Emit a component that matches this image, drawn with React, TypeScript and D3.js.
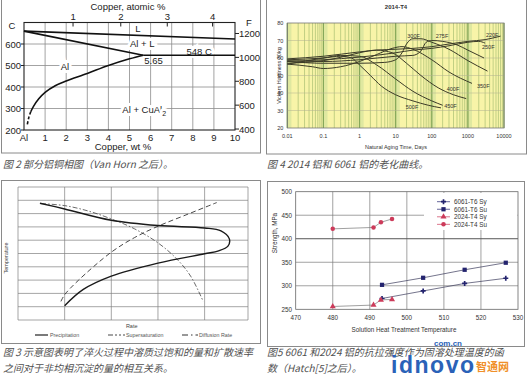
import React from 'react';
import * as d3 from 'd3';

// ---------- Panel 1: partial Al-Cu phase diagram ----------
const wtTicks = [0, 1, 2, 3, 4, 5, 6, 7, 8, 9, 10];
const wtTickLabels = ['Al', '1', '2', '3', '4', '5', '6', '7', '8', '9', '10'];
const celsiusTicks = [200, 300, 400, 500, 600];
const fahrenheitTicks = [400, 600, 800, 1000, 1200];
const atomicTicks = [1, 2, 3, 4];
const liquidusLine = [[0, 660], [10, 623]];
const solidusLine = [[0, 660], [5.65, 548]];
const eutecticLine = [[5.65, 548], [10, 548]];
const solvusLine = [[5.65, 548], [5, 531], [4, 500], [3, 463], [2, 428], [1.5, 407], [1, 375], [0.7, 345], [0.45, 310], [0.32, 285]];
const solvusDashed = [[0.32, 285], [0.22, 255], [0.15, 222]];

// ---------- Panel 2: 2014-T4 aging curves ----------
const ageTicks = [0.01, 0.1, 1, 10, 100, 1000, 10000];
const ageTickLabels = ['0.01', '0.1', '1', '10', '100', '1000', '10000'];
const hardTicks = [20, 30, 40, 50, 60, 70, 80];
const h220F = [[0.01, 59.5], [0.1, 61], [1, 63.5], [3, 64.5], [10, 65], [30, 65.5], [100, 66.5], [300, 68], [1000, 69.5], [3000, 70.5], [8000, 72.5]];
const h250F = [[0.01, 58], [0.1, 59], [1, 60.5], [10, 63], [30, 64.5], [100, 65.5], [300, 67], [1000, 69], [2000, 69.5], [3000, 68.5]];
const h275F = [[0.01, 58.5], [0.1, 58], [1, 59], [10, 61], [30, 61.5], [50, 64], [70, 69], [100, 70], [200, 69.5], [500, 67.5], [1000, 64.5], [2800, 60]];
const h300F = [[0.01, 58], [0.1, 57], [1, 57], [5, 57.5], [10, 59], [15, 63], [20, 68], [30, 71], [50, 71], [100, 69], [300, 65], [1000, 58.5], [3500, 52.5]];
const h350F = [[0.01, 56.5], [0.05, 55], [0.1, 54], [0.3, 55], [1, 58], [3, 62], [8, 65.5], [15, 66.5], [30, 65], [100, 59], [300, 52], [1300, 45.5]];
const h400F = [[0.01, 57], [0.1, 58.5], [0.5, 61.5], [1, 63], [3, 64.5], [8, 63], [20, 57], [50, 50], [150, 43], [400, 39], [900, 36.8]];
const h450F = [[0.01, 56.5], [0.1, 60], [0.3, 61.5], [1, 61], [3, 56], [10, 48], [30, 41], [100, 35.5], [200, 33]];
const h500F = [[0.01, 59], [0.1, 60], [0.3, 61], [0.6, 60], [1, 56], [2, 50], [4, 44], [10, 39], [30, 35.5], [80, 33], [180, 31.5]];
const hardSeriesNames = ['220F', '250F', '275F', '300F', '350F', '400F', '450F', '500F'];

// ---------- Panel 3: schematic rates ----------
const precipitation = [[0.47, 8.78], [1.0, 8.35], [2.0, 7.5], [3.0, 7.1], [4.0, 6.92], [4.35, 6.7], [4.53, 6.1], [4.5, 5.55], [4.3, 5.2], [4.0, 4.98], [3.0, 4.28], [2.0, 3.3], [1.4, 2.3], [1.0, 1.08]];
const supersaturation = [[0.5, 8.75], [1.0, 8.6], [1.5, 8.2], [2.0, 7.6], [2.5, 6.85], [3.0, 5.8], [3.4, 4.6], [3.7, 3.3], [3.97, 1.4]];
const diffusionRate = [[0.92, 1.4], [1.0, 1.9], [1.3, 3.0], [2.0, 5.1], [2.5, 6.2], [3.0, 7.05], [3.6, 7.9], [4.26, 8.83]];
const legend3 = ['Precipitation', 'Supersaturation', 'Diffusion Rate'];

// ---------- Panel 4: strength vs solution temperature ----------
const tempTicks = [470, 480, 490, 500, 510, 520, 530];
const strengthTicks = [250, 300, 350, 400, 450, 500];
const t6061 = [493.3, 504.4, 515.6, 526.7];
const sy6061 = [273, 289, 305, 316];
const su6061 = [302, 317, 334, 349];
const t2024 = [480, 491, 493, 496];
const sy2024 = [256, 259, 270, 271];
const su2024 = [421, 424, 435, 442];
const legend4 = ['6061-T6 Sy', '6061-T6 Su', '2024-T4 Sy', '2024-T4 Su'];

const SANS = "'Liberation Sans', Arial, sans-serif";
const CJK = "'Noto Sans CJK SC', sans-serif";

export default function App() {
  // Panel 1
  const x1 = d3.scaleLinear().domain([0, 10]).range([24, 235]);
  const y1 = d3.scaleLinear().domain([200, 700]).range([130, 22.5]);
  const yF = (f: number) => y1((f - 32) / 1.8);
  const atToWt = (a: number) => (100 * a * 63.55) / (a * 63.55 + (100 - a) * 26.98);
  const l1 = d3.line<number[]>().x(d => x1(d[0])).y(d => y1(d[1]));
  const l1c = d3.line<number[]>().x(d => x1(d[0])).y(d => y1(d[1])).curve(d3.curveCatmullRom.alpha(0.5));

  // Panel 2
  const x2 = d3.scaleLog().domain([0.01, 10000]).range([287.3, 504]);
  const y2 = d3.scaleLinear().domain([20, 80]).range([128, 23]);
  const l2 = d3.line<number[]>().x(d => x2(d[0])).y(d => y2(d[1])).curve(d3.curveMonotoneX);
  const hardSeries = [h220F, h250F, h275F, h300F, h350F, h400F, h450F, h500F];
  const hardLabelPos: [number, number][] = [[3150, 72.2], [2460, 65.3], [129, 71.2], [21, 71.2], [1790, 42.8], [260, 41], [220, 31.6], [19, 30.6]];
  const minor: number[] = [];
  for (let dd = -2; dd <= 3; dd++) for (let k = 1; k <= 9; k++) minor.push(k * Math.pow(10, dd));

  // Panel 3
  const x3 = d3.scaleLinear().domain([0, 4.93]).range([18, 248]);
  const y3 = d3.scaleLinear().domain([0, 10]).range([320, 187]);
  const l3 = d3.line<number[]>().x(d => x3(d[0])).y(d => y3(d[1])).curve(d3.curveCatmullRom.alpha(0.5));

  // Panel 4
  const x4 = d3.scaleLinear().domain([470, 530]).range([295.7, 518]);
  const y4 = d3.scaleLinear().domain([250, 500]).range([309.3, 191.7]);
  const l4 = d3.line<number>();
  const navy = '#23236e';
  const red = '#cc3b5a';
  const sym = (t: any, s: number) => d3.symbol().type(t).size(s)() as string;
  const series4 = [
    { t: t6061, v: sy6061, c: navy, s: sym(d3.symbolCross, 14) },
    { t: t6061, v: su6061, c: navy, s: sym(d3.symbolSquare, 18) },
    { t: t2024, v: sy2024, c: red, s: sym(d3.symbolTriangle, 16) },
    { t: t2024, v: su2024, c: red, s: sym(d3.symbolCircle, 16) },
  ];

  const halo = { stroke: '#fff', strokeWidth: 6, paintOrder: 'stroke' as const };

  return (
    <svg width={528} height={384} style={{ position: 'absolute', left: 0, top: 0, background: '#fff' }} fontFamily={SANS}>
      {/* ================= Panel 1 ================= */}
      <rect x={1.5} y={-2} width={259} height={155} fill="none" stroke="#8a8a8a" strokeWidth={1} />
      {wtTicks.slice(1, -1).map(w => (
        <line key={'v' + w} x1={x1(w)} x2={x1(w)} y1={y1(700)} y2={y1(200)} stroke="#8c8c8c" strokeWidth={0.8} />
      ))}
      {celsiusTicks.slice(1).map(c => (
        <line key={'h' + c} x1={x1(0)} x2={x1(10)} y1={y1(c)} y2={y1(c)} stroke="#8c8c8c" strokeWidth={0.8} />
      ))}
      <rect x={x1(0)} y={y1(700)} width={x1(10) - x1(0)} height={y1(200) - y1(700)} fill="none" stroke="#222" strokeWidth={1.1} />
      {celsiusTicks.map(c => (
        <g key={'ct' + c}>
          <line x1={x1(0) - 3} x2={x1(0)} y1={y1(c)} y2={y1(c)} stroke="#222" />
          <text x={x1(0) - 3} y={y1(c) + 3.5} fontSize={9.5} textAnchor="end" fill="#222">{c}</text>
        </g>
      ))}
      {fahrenheitTicks.map(f => (
        <g key={'ft' + f}>
          <line x1={x1(10)} x2={x1(10) + 4} y1={yF(f)} y2={yF(f)} stroke="#222" />
          <text x={x1(10) + 4} y={yF(f) + 3.5} fontSize={9.5} fill="#222">{f}</text>
        </g>
      ))}
      {wtTicks.map((w, i) => (
        <text key={'wt' + w} x={x1(w)} y={140.5} fontSize={9.5} textAnchor="middle" fill="#222">{wtTickLabels[i]}</text>
      ))}
      {atomicTicks.map(a => (
        <g key={'at' + a}>
          <line x1={x1(atToWt(a))} x2={x1(atToWt(a))} y1={y1(700)} y2={y1(700) + 4} stroke="#222" />
          <text x={x1(atToWt(a))} y={19.5} fontSize={9.5} textAnchor="middle" fill="#222">{a}</text>
        </g>
      ))}
      <text x={128} y={10} fontSize={9.5} textAnchor="middle" fill="#222">Copper,  atomic %</text>
      <text x={123} y={150} fontSize={9.5} textAnchor="middle" fill="#222">Copper,  wt  %</text>
      <text x={12} y={29} fontSize={9.5} textAnchor="middle" fill="#222">C</text>
      <text x={249} y={26} fontSize={9.5} textAnchor="middle" fill="#222">F</text>
      <text x={x1(5.4)} y={y1(655)} fontSize={9.5} textAnchor="middle" fill="#222">L</text>
      <text x={x1(5.6)} y={y1(588)} fontSize={9.5} textAnchor="middle" fill="#222" {...halo}>Al + L</text>
      <text x={x1(7.7)} y={y1(551)} fontSize={9.5} fill="#222" {...halo}>548 C</text>
      <text x={x1(5.7)} y={y1(508)} fontSize={9.5} fill="#222">5.65</text>
      <text x={x1(1.94)} y={y1(478)} fontSize={9.5} textAnchor="middle" fill="#222" {...halo}>Al</text>
      <text x={x1(4.66)} y={y1(280)} fontSize={9.5} fill="#222" {...halo}>Al  +  CuAl<tspan fontSize={7} dy={3}>2</tspan></text>
      <path d={l1(liquidusLine) ?? ''} fill="none" stroke="#111" strokeWidth={1.6} />
      <path d={l1(solidusLine) ?? ''} fill="none" stroke="#111" strokeWidth={1.6} />
      <path d={l1(eutecticLine) ?? ''} fill="none" stroke="#111" strokeWidth={1.6} />
      <path d={l1c(solvusLine) ?? ''} fill="none" stroke="#111" strokeWidth={1.6} />
      <path d={l1c(solvusDashed) ?? ''} fill="none" stroke="#111" strokeWidth={1.6} strokeDasharray="3,2" />

      {/* ================= Panel 2 ================= */}
      <rect x={266.5} y={-2} width={260} height={156} fill="none" stroke="#8a8a8a" strokeWidth={1} />
      <text x={396} y={9} fontSize={6} fontWeight="bold" textAnchor="middle" fill="#333">2014-T4</text>
      <rect x={x2(0.01)} y={y2(80)} width={x2(10000) - x2(0.01)} height={y2(20) - y2(80)} fill="#f8f4a8" />
      {[0.01, 0.1, 1, 10, 100, 1000].map(v => (
        <rect key={'band' + v} x={x2(v)} y={y2(80)} width={x2(v * 1.3) - x2(v)} height={y2(20) - y2(80)} fill="#dfe8a0" />
      ))}
      {minor.map(v => (
        <line key={'m' + v} x1={x2(v)} x2={x2(v)} y1={y2(80)} y2={y2(20)} stroke="#a9bf72" strokeWidth={0.7} />
      ))}
      {ageTicks.map(v => (
        <line key={'M' + v} x1={x2(v)} x2={x2(v)} y1={y2(80)} y2={y2(20)} stroke="#86a85a" strokeWidth={1.2} />
      ))}
      {hardTicks.slice(1, -1).map(v => (
        <line key={'hh' + v} x1={x2(0.01)} x2={x2(10000)} y1={y2(v)} y2={y2(v)} stroke="#b0b090" strokeWidth={0.5} />
      ))}
      <rect x={x2(0.01)} y={y2(80)} width={x2(10000) - x2(0.01)} height={y2(20) - y2(80)} fill="none" stroke="#777" strokeWidth={0.8} />
      {hardSeries.map((s, i) => (
        <path key={'hs' + i} d={l2(s) ?? ''} fill="none" stroke="#3c3b28" strokeWidth={1} />
      ))}
      {hardSeriesNames.map((n, i) => (
        <text key={'hl' + n} x={x2(hardLabelPos[i][0])} y={y2(hardLabelPos[i][1])} fontSize={5.5} fill="#333">{n}</text>
      ))}
      {hardTicks.map(v => (
        <text key={'yt2' + v} x={x2(0.01) - 4} y={y2(v) + 2} fontSize={5.5} textAnchor="end" fill="#333">{v}</text>
      ))}
      {ageTicks.map((v, i) => (
        <text key={'xt2' + v} x={x2(v)} y={137.5} fontSize={5.5} textAnchor="middle" fill="#333">{ageTickLabels[i]}</text>
      ))}
      <text x={396} y={148.5} fontSize={5.5} textAnchor="middle" fill="#333">Natural Aging Time, Days</text>
      <text transform="translate(281,75.5) rotate(-90)" fontSize={5.5} textAnchor="middle" fill="#333">Vickers Hardness 30kg</text>

      {/* ================= Panel 3 ================= */}
      <rect x={1.5} y={180.5} width={259} height={163} fill="none" stroke="#8a8a8a" strokeWidth={1} />
      {[0, 1, 2, 3, 4].map(v => (
        <line key={'v3' + v} x1={x3(v)} x2={x3(v)} y1={y3(10)} y2={y3(0)} stroke="#808080" strokeWidth={0.7} />
      ))}
      {d3.range(0, 11).map(v => (
        <line key={'h3' + v} x1={x3(0)} x2={x3(4.93)} y1={y3(v)} y2={y3(v)} stroke="#808080" strokeWidth={0.7} />
      ))}
      <line x1={x3(4.93)} x2={x3(4.93)} y1={y3(10)} y2={y3(0)} stroke="#808080" strokeWidth={0.7} />
      <path d={l3(supersaturation) ?? ''} fill="none" stroke="#444" strokeWidth={0.8} strokeDasharray="5,2,1.5,2" />
      <path d={l3(diffusionRate) ?? ''} fill="none" stroke="#333" strokeWidth={0.9} strokeDasharray="5,3" />
      <path d={l3(precipitation) ?? ''} fill="none" stroke="#1a1a1a" strokeWidth={1.4} />
      <text x={131.7} y={328} fontSize={5.5} textAnchor="middle" fill="#444">Rate</text>
      <text transform="translate(8,258) rotate(-90)" fontSize={5.5} textAnchor="middle" fill="#444">Temperature</text>
      <line x1={35} x2={48} y1={335} y2={335} stroke="#222" strokeWidth={1.2} />
      <line x1={108} x2={125} y1={335} y2={335} stroke="#333" strokeWidth={0.9} strokeDasharray="5,2,2,2,2,2" />
      <line x1={182} x2={198} y1={335} y2={335} stroke="#333" strokeWidth={1} strokeDasharray="6,3,1.5,3" />
      {legend3.map((n, i) => (
        <text key={'lg3' + n} x={[50, 126, 199][i]} y={337} fontSize={5.3} fill="#555">{n}</text>
      ))}

      {/* ================= Panel 4 ================= */}
      <rect x={267.5} y={181.5} width={257} height={165} fill="none" stroke="#8a8a8a" strokeWidth={1} />
      {tempTicks.slice(1, -1).map(v => (
        <line key={'v4' + v} x1={x4(v)} x2={x4(v)} y1={y4(500)} y2={y4(250)} stroke="#7a7a7a" strokeWidth={0.7} />
      ))}
      {strengthTicks.slice(1, -1).map(v => (
        <line key={'h4' + v} x1={x4(470)} x2={x4(530)} y1={y4(v)} y2={y4(v)} stroke={v === 400 ? '#555' : '#7a7a7a'} strokeWidth={v === 400 ? 1 : 0.7} />
      ))}
      <rect x={424} y={193} width={93.5} height={37} fill="#fff" />
      <rect x={x4(470)} y={y4(500)} width={x4(530) - x4(470)} height={y4(250) - y4(500)} fill="none" stroke="#666" strokeWidth={0.8} />
      {series4.map((s, i) => (
        <g key={'s4' + i}>
          <path d={l4(s.t.map((t, j) => [x4(t), y4(s.v[j])] as [number, number])) ?? ''} fill="none" stroke={i < 2 ? '#3a3a5a' : '#777'} strokeWidth={0.7} />
          {s.t.map((t, j) => (
            <path key={j} d={s.s} transform={`translate(${x4(t)},${y4(s.v[j])})`} fill={s.c} />
          ))}
        </g>
      ))}
      {legend4.map((n, i) => (
        <g key={'lg4' + n}>
          <line x1={437} x2={450} y1={201.7 + i * 7.55} y2={201.7 + i * 7.55} stroke={series4[i].c} strokeWidth={0.7} />
          <path d={series4[i].s} transform={`translate(443.5,${201.7 + i * 7.55})`} fill={series4[i].c} />
          <text x={454} y={204 + i * 7.55} fontSize={6.3} fill="#333">{n}</text>
        </g>
      ))}
      {strengthTicks.map(v => (
        <text key={'yt4' + v} x={292} y={y4(v) + 2.3} fontSize={6.3} textAnchor="end" fill="#333">{v}</text>
      ))}
      {tempTicks.map(v => (
        <text key={'xt4' + v} x={x4(v)} y={320} fontSize={6.3} textAnchor="middle" fill="#333">{v}</text>
      ))}
      <text x={404} y={331.5} fontSize={6.3} textAnchor="middle" fill="#333">Solution Heat Treatment Temperature</text>
      <text transform="translate(277,233) rotate(-90)" fontSize={6.3} textAnchor="middle" fill="#333">Strength, MPa</text>

      {/* ================= Captions ================= */}
      <g fontFamily={CJK} fontStyle="italic" fill="#505050" fontSize={10}>
        <text x={3} y={168}>图 2  部分铝铜相图（Van Horn 之后）。</text>
        <text x={267} y={168}>图 4  2014 铝和 6061 铝的老化曲线。</text>
        <text x={3} y={356}>图 3  示意图表明了淬火过程中溶质过饱和的量和扩散速率</text>
        <text x={3} y={372}>之间对于非均相沉淀的量的相互关系。</text>
        <text x={267} y={356}>图5  6061 和2024 铝的抗拉强度作为固溶处理温度的函</text>
        <text x={267} y={372}>数（Hatch[5]之后）。</text>
      </g>
      {/* watermark */}
      <text x={434} y={346} fontSize={8} fontWeight="bold" fill="#2a62b8">com.cn</text>
      <text x={391} y={373} fontSize={23} fontWeight="bold" fill="#2a62b8" textLength={83}>idnovo</text>
      <text x={476} y={371} fontSize={11} fontWeight="bold" fill="#f0902a" fontFamily={CJK}>智通网</text>
    </svg>
  );
}
